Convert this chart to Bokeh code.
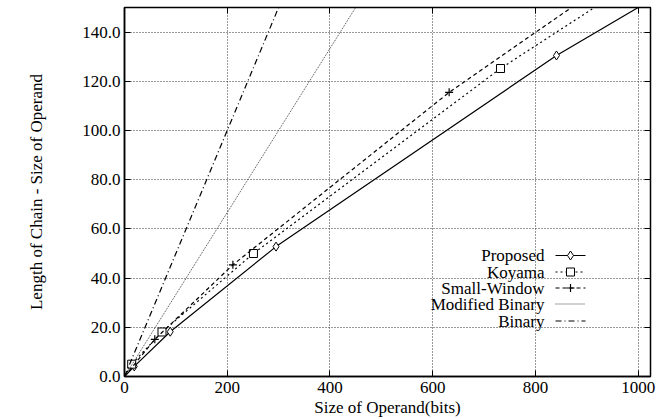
from bokeh.plotting import figure
from bokeh.models import Range1d, LinearAxis, FixedTicker, PrintfTickFormatter, CustomJSTickFormatter
from bokeh.core.properties import value
from bokeh.embed import file_html
from bokeh.resources import INLINE

# ---- data ----
proposed_x = [0, 19, 89, 295, 841, 1000]
proposed_y = [0, 4.1, 18.2, 52.8, 130.5, 150]
koyama_x = [0, 14, 73, 251, 732, 915]
koyama_y = [0, 5.0, 18.1, 50.0, 125.2, 150]
small_x = [0, 59, 211, 632, 870]
small_y = [0, 15.1, 45.4, 115.5, 150]
modbin_x = [0, 450]
modbin_y = [0, 150]
binary_x = [0, 300]
binary_y = [0, 150]

x_ticks = [0, 200, 400, 600, 800, 1000]
y_ticks = [0, 20, 40, 60, 80, 100, 120, 140]
legend_labels = ["Proposed", "Koyama", "Small-Window", "Modified Binary", "Binary"]

X_MAX = 1024
Y_MAX = 150
FONT = "Liberation Serif"
FS = "17px"

LEFT, TOP = 124, 7
FRAME_W, FRAME_H = 526, 369
W, H = 667, 419
p = figure(width=W, height=H, output_backend="svg", toolbar_location=None,
           x_range=Range1d(0, X_MAX), y_range=Range1d(0, Y_MAX),
           min_border_left=LEFT, min_border_right=W - LEFT - FRAME_W,
           min_border_top=TOP, min_border_bottom=H - TOP - FRAME_H,
           frame_width=FRAME_W, frame_height=FRAME_H)
p.background_fill_color = "white"
p.border_fill_color = "white"
p.outline_line_color = "black"
p.outline_line_width = 1.5

for ax in (p.xaxis[0], p.yaxis[0]):
    ax.major_tick_in = 6
    ax.major_tick_out = 0
    ax.minor_tick_line_color = None
    ax.axis_line_color = "black"
    ax.axis_line_width = 1.5
    ax.major_tick_line_color = "black"
    ax.major_label_text_font = FONT
    ax.major_label_text_font_size = FS
    ax.major_label_text_color = "black"
    ax.axis_label_text_font = FONT
    ax.axis_label_text_font_size = FS
    ax.axis_label_text_font_style = "normal"
    ax.axis_label_text_color = "black"

p.xaxis[0].ticker = FixedTicker(ticks=x_ticks)
p.yaxis[0].ticker = FixedTicker(ticks=y_ticks)
p.yaxis[0].formatter = PrintfTickFormatter(format="%.1f")
p.xaxis[0].axis_label = "Size of Operand(bits)"
p.yaxis[0].axis_label = "Length of Chain - Size of Operand"
p.xaxis[0].major_label_standoff = 5
p.yaxis[0].major_label_standoff = 4
p.xaxis[0].axis_label_standoff = 2
p.yaxis[0].axis_label_standoff = 33

# mirrored ticks on top and right (no labels)
for loc, ticks in (("right", y_ticks), ("above", x_ticks)):
    ax = LinearAxis(ticker=FixedTicker(ticks=ticks),
                    formatter=CustomJSTickFormatter(code="return ''"))
    ax.major_tick_in = 6
    ax.major_tick_out = 0
    ax.minor_tick_line_color = None
    ax.axis_line_color = None
    ax.major_label_standoff = 0
    ax.major_tick_line_color = "black"
    p.add_layout(ax, loc)

p.xgrid.ticker = FixedTicker(ticks=x_ticks)
p.ygrid.ticker = FixedTicker(ticks=y_ticks)
for g in (p.xgrid, p.ygrid):
    g.grid_line_color = "#333333"
    g.grid_line_dash = "1 2"
    g.grid_line_width = 1

MB_COLOR = "#444444"

# ---- series ----
p.line(proposed_x, proposed_y, color="black", line_width=1.2)
p.scatter(proposed_x[1:-1], proposed_y[1:-1], marker="diamond", size=9,
          fill_color="white", line_color="black", line_width=1)
p.line(koyama_x, koyama_y, color="black", line_width=1.2, line_dash="2 3")
p.scatter(koyama_x[1:-1], koyama_y[1:-1], marker="square", size=8,
          fill_color="white", line_color="black", line_width=1)
p.line(small_x, small_y, color="black", line_width=1.2, line_dash="4 3")
p.scatter(small_x[1:-1], small_y[1:-1], marker="cross", size=8, line_color="black", line_width=1.2)
p.line(modbin_x, modbin_y, color=MB_COLOR, line_width=1.0, line_dash="1 1")
p.line(binary_x, binary_y, color="black", line_width=1.2, line_dash="6 3 1 3")

# ---- legend (gnuplot style: right-aligned text, sample on the right) ----
def px2x(px):
    return (px - LEFT) / FRAME_W * X_MAX

def py2y(py):
    return (TOP + FRAME_H - py) / FRAME_H * Y_MAX

rows_py = [255, 271.5, 287.5, 303.5, 320.5]
tx = px2x(544)
sx0, sx1, sxm = px2x(555), px2x(585), px2x(570)
ys = [py2y(r) for r in rows_py]
p.text([tx] * 5, ys, text=legend_labels, text_align="right", text_baseline="middle",
       text_font=value(FONT), text_font_size=FS, text_color="black")
styles = [("black", None), ("black", "2 3"), ("black", "4 3"), (MB_COLOR, "1 1"), ("black", "6 3 1 3")]
for (c, d), y in zip(styles, ys):
    if d is None:
        p.line([sx0, sx1], [y, y], color=c, line_width=1.2)
    else:
        p.line([sx0, sx1], [y, y], color=c, line_width=1.2, line_dash=d)
p.scatter([sxm], [ys[0]], marker="diamond", size=9, fill_color="white", line_color="black")
p.scatter([sxm], [ys[1]], marker="square", size=8, fill_color="white", line_color="black")
p.scatter([sxm], [ys[2]], marker="cross", size=8, line_color="black", line_width=1.2)

open("out.html", "w").write(file_html(p, INLINE))
